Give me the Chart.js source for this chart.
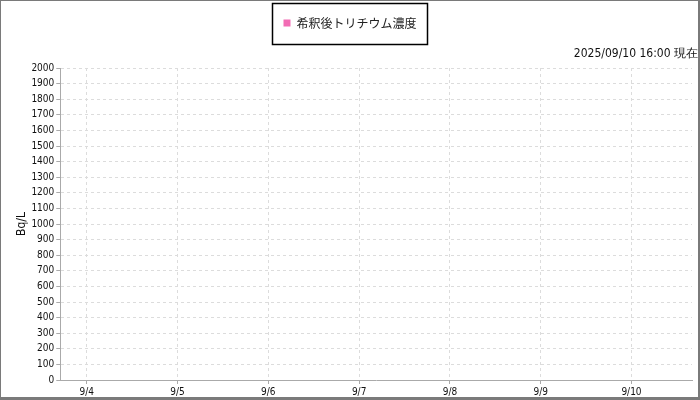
<!DOCTYPE html>
<html>
<head>
<meta charset="utf-8">
<script src="https://cdn.jsdelivr.net/npm/chart.js@4"></script>
<style>
html,body{margin:0;padding:0;background:#fff;}
#wrap{position:relative;width:700px;height:400px;}
</style>
</head>
<body>
<div id="wrap"><canvas id="c" width="700" height="400"></canvas></div>
<script>
// ---- data ----
const seriesLabel = '希釈後トリチウム濃度';
const timestampText = '2025/09/10 16:00 現在';
const xTickLabels = ['9/4', '9/5', '9/6', '9/7', '9/8', '9/9', '9/10'];
const xTickHours = [0, 24, 48, 72, 96, 120, 144];   // hours since 9/4 00:00
const xMinHour = -7;    // 9/3 17:00
const xMaxHour = 160;   // 9/10 16:00
const tritiumValues = []; // no measurements shown (x in hours, y in Bq/L)
const yMin = 0, yMax = 2000, yStep = 100;
const yTitle = 'Bq/L';

const narrowFont = "'Liberation Sans Narrow', 'DejaVu Sans Condensed', sans-serif";

const frameAndLegendBox = {
  id: 'frameAndLegendBox',
  afterLayout(chart) {
    // centre the legend on the canvas rather than on the padded area
    const lg = chart.legend;
    if (lg) { lg.left -= 3.5; lg.right -= 3.5; }
  },
  afterDraw(chart) {
    const ctx = chart.ctx;
    ctx.save();
    // outer frame
    ctx.strokeStyle = '#7a7a7a';
    ctx.lineWidth = 1;
    ctx.strokeRect(0.5, 0.5, 698, 397);
    ctx.lineWidth = 2;
    ctx.beginPath();
    ctx.moveTo(699, 0); ctx.lineTo(699, 400);
    ctx.moveTo(0, 399); ctx.lineTo(700, 399);
    ctx.stroke();
    // legend border
    const lg = chart.legend;
    if (lg && lg.legendHitBoxes && lg.legendHitBoxes.length) {
      const hb = lg.legendHitBoxes[0];
      const cx = hb.left + hb.width / 2;
      const cy = hb.top + hb.height / 2;
      ctx.strokeStyle = '#000';
      ctx.lineWidth = 1.5;
      ctx.strokeRect(Math.round(cx - 78) + 0.5, Math.round(cy - 20) + 0.5, 155, 41);
    }
    // timestamp text
    ctx.fillStyle = '#111';
    ctx.font = "12px " + narrowFont;
    ctx.textAlign = 'right';
    ctx.textBaseline = 'middle';
    ctx.fillText(timestampText, 698, 54);
    ctx.restore();
  }
};

new Chart(document.getElementById('c'), {
  type: 'line',
  data: {
    datasets: [{
      label: seriesLabel,
      data: tritiumValues,
      borderColor: '#f26cb4',
      backgroundColor: '#f26cb4',
      pointRadius: 3
    }]
  },
  options: {
    responsive: false,
    animation: false,
    devicePixelRatio: 1,
    layout: { padding: { left: 15, right: 8, top: 9, bottom: 0 } },
    plugins: {
      legend: {
        display: true,
        position: 'top',
        labels: {
          boxWidth: 7,
          boxHeight: 7,
          padding: 8,
          color: '#222',
          font: { family: "'Noto Sans CJK JP', sans-serif", size: 12 },
          generateLabels(chart) {
            const items = Chart.defaults.plugins.legend.labels.generateLabels(chart);
            items.forEach(it => { it.lineWidth = 0; it.strokeStyle = 'rgba(0,0,0,0)'; });
            return items;
          }
        }
      },
      title: {
        // spacer below the legend (timestamp is drawn by the plugin)
        display: true,
        text: '',
        position: 'top',
        weight: 500,
        font: { size: 10 },
        padding: { top: 0, bottom: 17 }
      },
      tooltip: { enabled: false }
    },
    scales: {
      x: {
        type: 'linear',
        min: xMinHour,
        max: xMaxHour,
        afterBuildTicks(axis) {
          axis.ticks = xTickHours.map(v => ({ value: v }));
        },
        ticks: {
          autoSkip: false,
          maxRotation: 0,
          color: '#111',
          font: { family: narrowFont, size: 10 },
          padding: 2,
          callback(value) {
            const i = xTickHours.indexOf(value);
            return i >= 0 ? xTickLabels[i] : '';
          }
        },
        grid: {
          color: '#dcdcdc',
          tickColor: '#aaa',
          tickLength: 4
        },
        border: { color: '#aaa', dash: [3, 3] }
      },
      y: {
        min: yMin,
        max: yMax,
        ticks: {
          stepSize: yStep,
          color: '#111',
          font: { family: narrowFont, size: 10 },
          padding: 2,
          callback(value) { return String(value); }
        },
        grid: {
          color: '#dcdcdc',
          tickColor: '#aaa',
          tickLength: 4
        },
        border: { color: '#aaa', dash: [3, 3] },
        title: {
          display: true,
          text: yTitle,
          color: '#111',
          font: { family: narrowFont, size: 12 },
          padding: { top: 0, bottom: 0 }
        }
      }
    }
  },
  plugins: [frameAndLegendBox]
});
</script>
</body>
</html>
